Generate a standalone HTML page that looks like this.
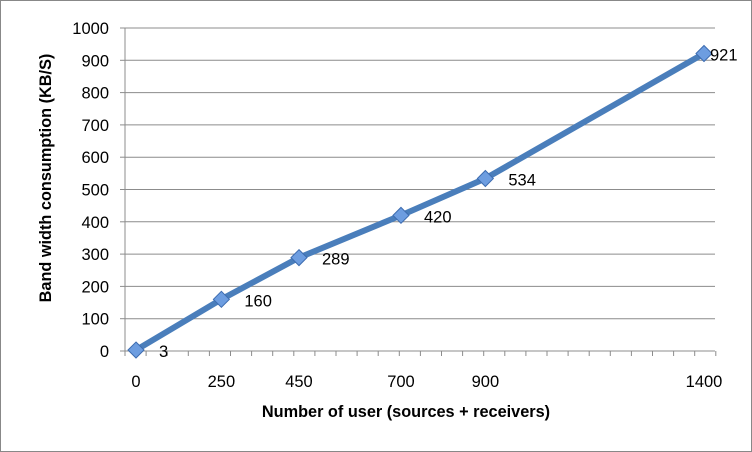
<!DOCTYPE html>
<html><head><meta charset="utf-8"><style>
body{margin:0;background:#fff;}
svg{display:block;font-family:"Liberation Sans",sans-serif;}
</style></head><body>
<svg width="752" height="452">
<rect x="0.5" y="0.5" width="751" height="451" fill="#fff" stroke="#888"/>
<g id="grid"></g><g id="axes"></g><g id="series"></g>
<text x="406" y="417" text-anchor="middle" font-size="16.3" font-weight="bold">Number of user (sources + receivers)</text>
<text transform="translate(51,178) rotate(-90)" text-anchor="middle" font-size="16.3" font-weight="bold">Band width consumption (KB/S)</text>
</svg>
<script>
const xValues=[0,250,450,700,900,1400];
const yValues=[3,160,289,420,534,921];
const yTicks=[0,100,200,300,400,500,600,700,800,900,1000];
const NS="http://www.w3.org/2000/svg";
function X(v){return 136+568*Math.pow(v/1400,1.1);}
function Y(v){return 351-v*0.323;}
function mk(t,a,p){const e=document.createElementNS(NS,t);for(const k in a)e.setAttribute(k,a[k]);p.appendChild(e);return e;}
const grid=document.getElementById('grid'),axes=document.getElementById('axes'),ser=document.getElementById('series');
yTicks.forEach(t=>{
 if(t>0){const g=mk('line',{x1:125,x2:715,y1:Y(t),y2:Y(t),stroke:'#8c8c8c','stroke-width':1},grid);
 
 }
 mk('line',{x1:120,x2:125,y1:Y(t),y2:Y(t),stroke:'#8c8c8c'},axes);
 const l=mk('text',{x:109,y:Y(t)+6,'text-anchor':'end','font-size':16.5},axes);l.textContent=t;
 
 
});
mk('line',{x1:125,x2:125,y1:Y(1000),y2:Y(0),stroke:'#8c8c8c'},axes);
mk('line',{x1:125,x2:715,y1:Y(0),y2:Y(0),stroke:'#8c8c8c'},axes);
for(let x=125;x<=716;x+=21.1)mk('line',{x1:x,x2:x,y1:Y(0),y2:Y(0)+5,stroke:'#8c8c8c'},axes);
xValues.forEach(v=>{const l=mk('text',{x:X(v),y:387,'text-anchor':'middle','font-size':16.5},axes);l.textContent=v;
 
 });
const pts=xValues.map((v,i)=>X(v)+','+Y(yValues[i])).join(' ');
const pl=mk('polyline',{points:pts,fill:'none',stroke:'#4a7ebb','stroke-width':6,'stroke-linejoin':'round'},ser);


xValues.forEach((v,i)=>{const x=X(v),y=Y(yValues[i]);
 const m=mk('polygon',{points:`${x},${y-8} ${x+8},${y} ${x},${y+8} ${x-8},${y}`,fill:'#6d9de0',stroke:'#3d6cb0','stroke-width':1},ser);
 
 
 const l=mk('text',{x:x+(i==5?6:23),y:y+7,'font-size':16.5},ser);l.textContent=yValues[i];
 
 
});
</script>
</body></html>
